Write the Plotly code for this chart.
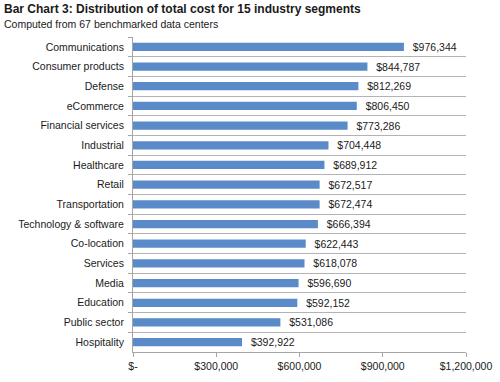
import plotly.graph_objects as go

segments = ["Communications", "Consumer products", "Defense", "eCommerce",
            "Financial services", "Industrial", "Healthcare", "Retail",
            "Transportation", "Technology & software", "Co-location", "Services",
            "Media", "Education", "Public sector", "Hospitality"]
costs = [976344, 844787, 812269, 806450, 773286, 704448, 689912, 672517,
         672474, 666394, 622443, 618078, 596690, 592152, 531086, 392922]
x_tickvals = [0, 300000, 600000, 900000, 1200000]
x_ticktext = ["$-", "$300,000", "$600,000", "$900,000", "$1,200,000"]

font_family = "Arial, Liberation Sans, sans-serif"
txt = "#1a1a1a"

fig = go.Figure(go.Bar(
    x=costs, y=segments, orientation="h",
    marker=dict(color="#5A8BC8", line=dict(width=0)),
    width=0.42,
    text=["  $" + f"{v:,}" for v in costs],
    textposition="outside",
    constraintext="none",
    textfont=dict(family=font_family, size=10.5, color=txt),
    cliponaxis=False,
    hoverinfo="skip",
))

L, R, T, B = 133, 34, 37, 30
fig.update_layout(
    width=500, height=382,
    margin=dict(l=L, r=R, t=T, b=B, autoexpand=False),
    paper_bgcolor="white", plot_bgcolor="white",
    showlegend=False,
    font=dict(family=font_family, size=10.5, color=txt),
    xaxis=dict(
        range=[0, 1200000], tickvals=x_tickvals, ticktext=x_ticktext,
        showgrid=False, zeroline=False,
        showline=True, linecolor="#a6a6a6", linewidth=1,
        ticks="outside", ticklen=4, tickcolor="#a6a6a6",
        tickfont=dict(size=10.5, color=txt),
        automargin=False,
    ),
    yaxis=dict(
        type="category", autorange="reversed",
        tickson="boundaries",
        showgrid=True, gridcolor="#b3b3b3", gridwidth=1,
        showline=True, linecolor="#a6a6a6", linewidth=1,
        ticks="outside", ticklen=4, tickcolor="#a6a6a6",
        tickfont=dict(size=10.5, color=txt),
        ticklabelstandoff=6,
        automargin=False,
    ),
    bargap=0.58,
)

plot_w = 500 - L - R
plot_h = 382 - T - B

def px_to_paper(px_x, px_y_from_top):
    return (px_x - L) / plot_w, ((382 - px_y_from_top) - B) / plot_h

tx, ty = px_to_paper(2, 9)
sx, sy = px_to_paper(2, 24)
fig.add_annotation(text="<b>Bar Chart 3: Distribution of total cost for 15 industry segments</b>",
                   x=tx, y=ty, xref="paper", yref="paper", showarrow=False,
                   xanchor="left", yanchor="middle",
                   font=dict(size=12, color=txt))
fig.add_annotation(text="Computed from 67 benchmarked data centers",
                   x=sx, y=sy, xref="paper", yref="paper", showarrow=False,
                   xanchor="left", yanchor="middle",
                   font=dict(size=10.5, color=txt))

fig.write_html("out.html",
               config={"displayModeBar": False},
               post_script="document.body.style.margin='0';document.body.style.overflow='hidden';")
